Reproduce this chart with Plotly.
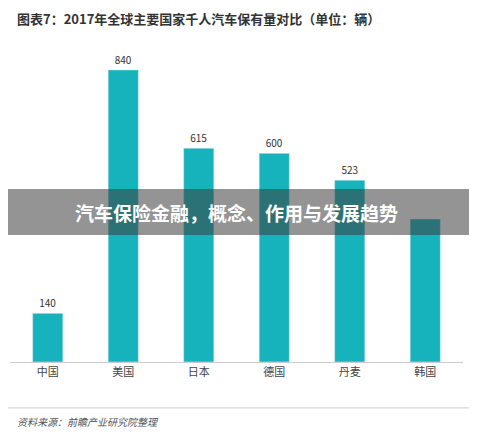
import plotly.graph_objects as go

countries = ["中国", "美国", "日本", "德国", "丹麦", "韩国"]
values = [140, 840, 615, 600, 523, 411]
labels = ["140", "840", "615", "600", "523", ""]

fig = go.Figure(go.Bar(x=countries, y=values, text=labels, textposition="outside",
                       marker_color="#17b3bd", width=0.4,
                       textfont=dict(size=10, color="#333"), cliponaxis=False))
fig.update_layout(
    width=477, height=436, paper_bgcolor="white", plot_bgcolor="white",
    margin=dict(l=2, r=22, t=48, b=82), showlegend=False,
    font=dict(family="Noto Sans CJK SC"),
    xaxis=dict(showline=True, linecolor="#ccc", tickfont=dict(size=11, color="#444"), ticks=""),
    yaxis=dict(visible=False, range=[0, 880]),
    annotations=[
        dict(text="<b>图表7：2017年全球主要国家千人汽车保有量对比（单位：辆）</b>", x=0.01, y=1.124,
             xref="paper", yref="paper", yanchor="middle", xanchor="left", showarrow=False,
             font=dict(size=13, color="#333")),
        dict(text="<i>资料来源：前瞻产业研究院整理</i>", x=0.01, y=-0.196, xref="paper", yref="paper",
             xanchor="left", yanchor="middle", showarrow=False, font=dict(size=10, color="#555")),
        dict(text="<b>汽车保险金融，概念、作用与发展趋势</b>", x=0.5, y=0.49, xref="paper", yref="paper",
             showarrow=False, font=dict(size=19, color="white")),
    ],
    shapes=[
        dict(type="line", xref="paper", yref="paper", x0=-0.01, x1=1.04, y0=-0.15, y1=-0.15,
             line=dict(color="#ccc", width=1)),
        dict(type="rect", xref="paper", yref="paper", x0=-0.03, x1=1.06, y0=0.415, y1=0.565,
             fillcolor="rgba(60,60,60,0.55)", line=dict(width=0), layer="above"),
    ],
)
fig.write_html("out.html")
